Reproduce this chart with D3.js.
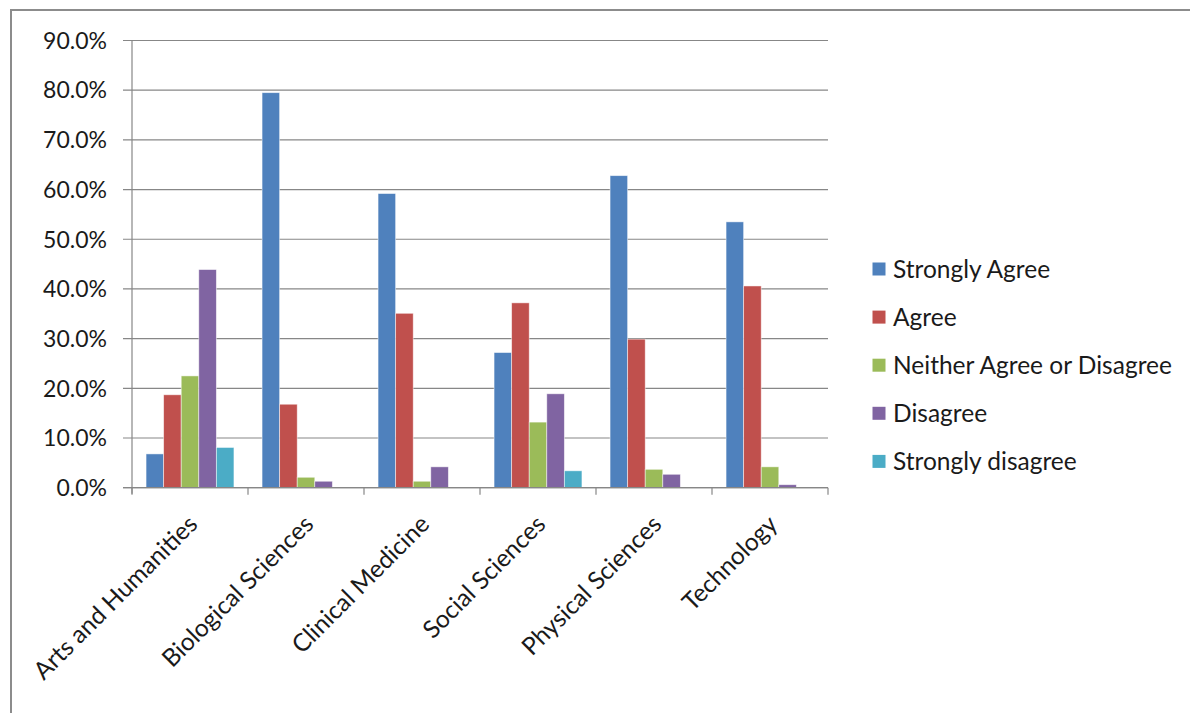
<!DOCTYPE html>
<html><head><meta charset="utf-8">
<script src="https://cdn.jsdelivr.net/npm/d3@7"></script>
<style>body{margin:0;background:#fff}</style>
</head><body>
<svg id="c" width="1190" height="713"></svg>
<script>
const categories = ["Arts and Humanities","Biological Sciences","Clinical Medicine","Social Sciences","Physical Sciences","Technology"];
const seriesNames = ["Strongly Agree","Agree","Neither Agree or Disagree","Disagree","Strongly disagree"];
const colors = ["#4F81BD","#C0504D","#9BBB59","#8064A2","#4BACC6"];
const stronglyAgree = [6.8, 79.5, 59.2, 27.2, 62.8, 53.5];
const agree = [18.7, 16.8, 35.1, 37.2, 29.9, 40.6];
const neither = [22.5, 2.1, 1.3, 13.2, 3.7, 4.2];
const disagree = [43.9, 1.3, 4.2, 18.9, 2.7, 0.6];
const stronglyDisagree = [8.1, 0, 0, 3.4, 0, 0];
const yTicks = [0,10,20,30,40,50,60,70,80,90];
const seriesValues = [stronglyAgree, agree, neither, disagree, stronglyDisagree];

const svg = d3.select("#c");
// outer frame
svg.append("rect").attr("x",11).attr("y",10).attr("width",1200).attr("height",720)
  .attr("fill","#fff").attr("stroke","#8c8c8c").attr("stroke-width",2);

const L=132, R=828, T=40.5, B=487.7;
const x0 = d3.scaleBand().domain(categories).range([L,R]).paddingInner(0).paddingOuter(0);
const x1 = d3.scaleBand().domain(seriesNames).range([0,x0.bandwidth()]).paddingInner(0).paddingOuter(0.8);
const y = d3.scaleLinear().domain([0,90]).range([B,T]);

// gridlines
svg.append("g").selectAll("line").data(yTicks).join("line")
  .attr("x1",123).attr("x2",R).attr("y1",d=>y(d)).attr("y2",d=>y(d))
  .attr("stroke","#878787").attr("stroke-width",1.2);
// y axis line
svg.append("line").attr("x1",L).attr("x2",L).attr("y1",T).attr("y2",B+6).attr("stroke","#878787").attr("stroke-width",1.2);
// x ticks
svg.append("g").selectAll("line").data(d3.range(categories.length+1)).join("line")
  .attr("x1",i=>L+i*x0.bandwidth()).attr("x2",i=>L+i*x0.bandwidth())
  .attr("y1",B).attr("y2",B+7).attr("stroke","#878787").attr("stroke-width",1.2);

// y labels
svg.append("g").selectAll("text").data(yTicks).join("text")
  .attr("x",107).attr("y",d=>y(d)).attr("dy","0.36em").attr("text-anchor","end")
  .attr("font-family","Lato").attr("font-size",23).attr("fill","#1a1a1a")
  .text(d=>d.toFixed(1)+"%");

// bars
const g = svg.append("g");
categories.forEach((c,ci)=>{
  seriesNames.forEach((s,si)=>{
    const v = seriesValues[si][ci];
    if(v<=0) return;
    g.append("rect").attr("x",x0(c)+x1(s)).attr("width",x1.bandwidth())
      .attr("y",y(v)).attr("height",y(0)-y(v)).attr("fill",colors[si])
      .attr("stroke","rgba(255,255,255,0.6)").attr("stroke-width",0.8);
  });
});
// redraw baseline over bars
svg.append("line").attr("x1",123).attr("x2",R).attr("y1",B).attr("y2",B).attr("stroke","#878787").attr("stroke-width",1.2);

// x labels
svg.append("g").selectAll("text").data(categories).join("text")
  .attr("transform",d=>`translate(${x0(d)+x0.bandwidth()/2+9},${B+38}) rotate(-45)`)
  .attr("text-anchor","end").attr("font-family","Lato").attr("font-size",24.5).attr("fill","#1a1a1a")
  .text(d=>d);

// legend
const lg = svg.append("g");
seriesNames.forEach((s,i)=>{
  const cy = 269 + i*48.1;
  lg.append("rect").attr("x",872.5).attr("y",cy-6.5).attr("width",13).attr("height",13).attr("fill",colors[i]);
  lg.append("text").attr("x",893).attr("y",cy).attr("dy","0.36em")
    .attr("font-family","Lato").attr("font-size",24.5).attr("fill","#1a1a1a").text(s);
});
</script>
</body></html>
